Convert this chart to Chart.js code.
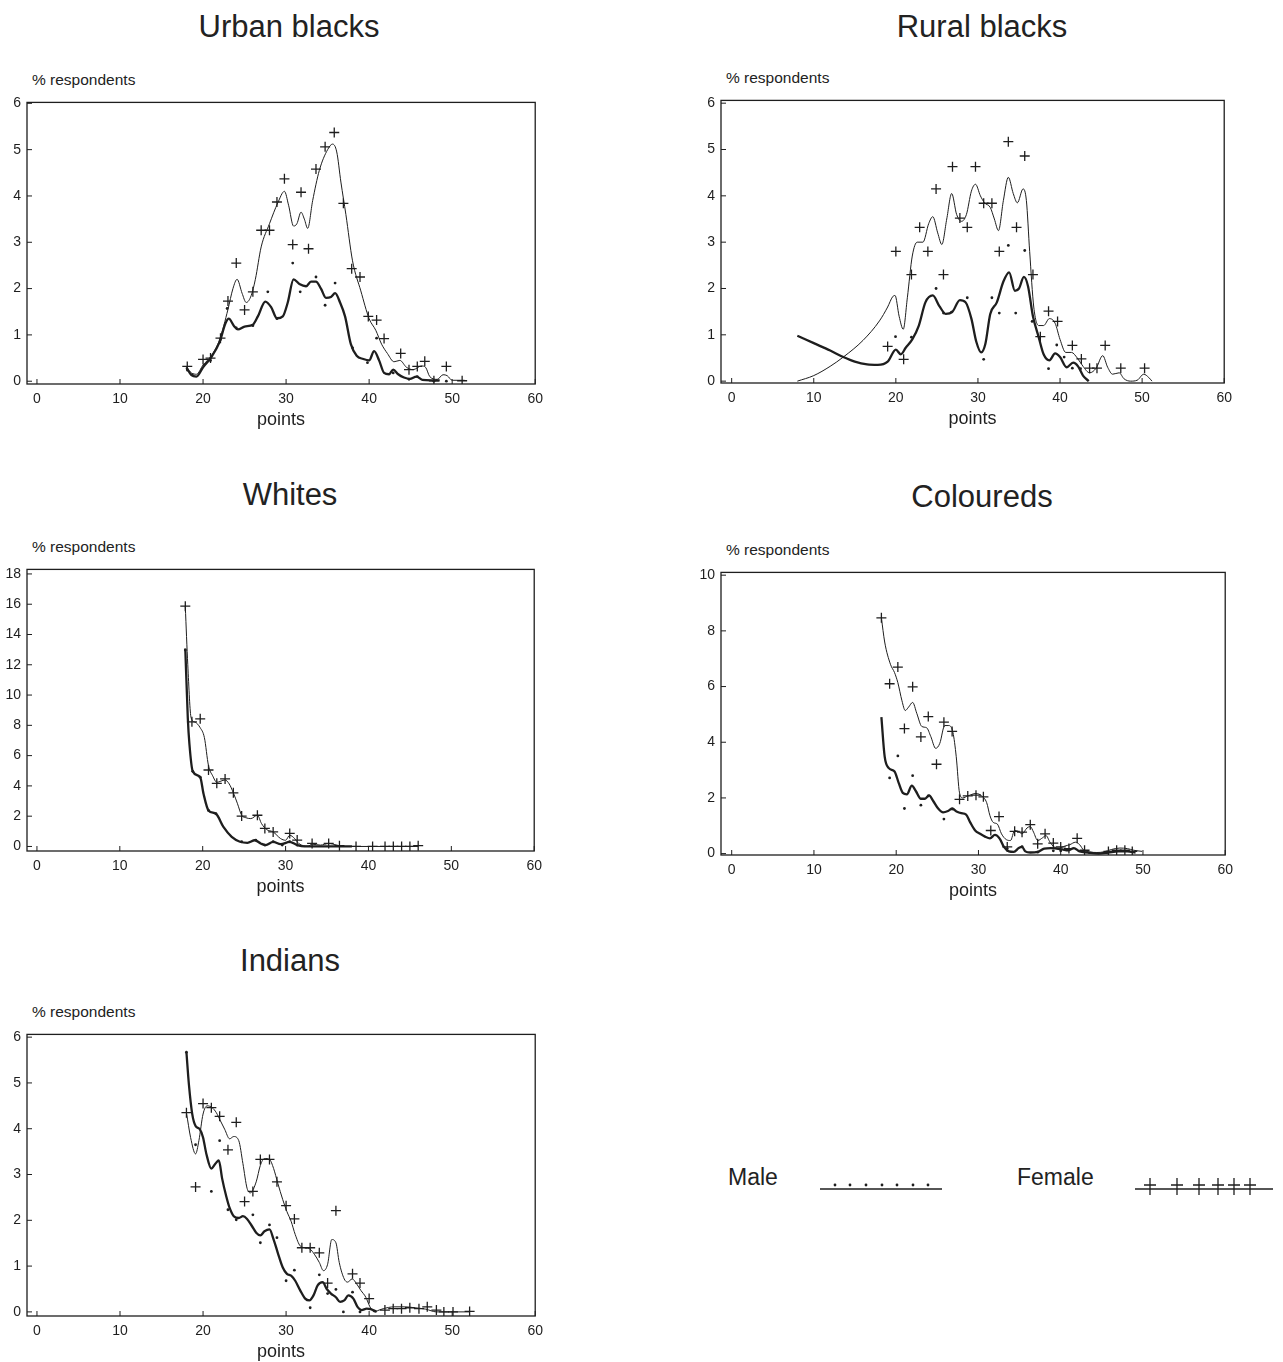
<!DOCTYPE html>
<html>
<head>
<meta charset="utf-8">
<script src="https://cdn.jsdelivr.net/npm/chart.js@4.4.1/dist/chart.umd.min.js"></script>
<style>
  body { margin: 0; background: #fff; width: 1283px; height: 1362px; position: relative; overflow: hidden;
         font-family: "Liberation Sans", Arial, Helvetica, sans-serif; color: #222; }
  .title { position: absolute; font-size: 31px; transform: translate(-50%, -50%); white-space: nowrap; }
  .ylab { position: absolute; font-size: 15.5px; transform: translateY(-50%); white-space: nowrap; }
  .leg { position: absolute; font-size: 23px; transform: translateY(-50%); white-space: nowrap; }
  canvas { position: absolute; }
</style>
</head>
<body>
<script>
// ---- tick labels ----
const xTickValues = [0, 10, 20, 30, 40, 50, 60];
const yTicksSix = [0, 1, 2, 3, 4, 5, 6];
const yTicksWhites = [0, 2, 4, 6, 8, 10, 12, 14, 16, 18];
const yTicksColoureds = [0, 2, 4, 6, 8, 10];

// ---- Urban blacks: [points, % respondents] ----
const urbanFemalePts = [[18.1,0.32],[20.0,0.47],[20.9,0.5],[22.1,0.93],[23.0,1.73],[24.0,2.55],[25.0,1.54],[26.0,1.93],[27.0,3.26],[28.0,3.26],[28.9,3.87],[29.8,4.37],[30.8,2.95],[31.8,4.08],[32.7,2.86],[33.6,4.58],[34.7,5.06],[35.8,5.37],[36.9,3.84],[37.9,2.43],[38.9,2.25],[39.9,1.4],[40.9,1.32],[41.8,0.92],[43.8,0.6],[44.8,0.25],[45.8,0.32],[46.7,0.43],[47.8,0.01],[49.3,0.32],[51.2,0.01]];
const urbanMalePts = [[18.1,0.25],[18.7,0.14],[20.9,0.45],[22.1,0.9],[22.9,1.57],[24.0,1.15],[26.0,1.2],[27.8,1.93],[28.9,1.35],[30.8,2.55],[31.7,1.93],[33.6,2.25],[34.7,1.64],[35.9,2.12],[38.0,0.72],[39.8,0.4],[40.9,0.93],[42.9,0.18],[44.8,0.04],[45.8,0.1],[47.8,0.0],[49.3,0.0]];
const urbanFemaleCurve = [[18.0,0.3],[18.6,0.18],[19.2,0.15],[20.0,0.35],[21.0,0.55],[22.0,0.9],[23.0,1.55],[23.6,2.0],[24.1,2.2],[24.7,1.9],[25.2,1.7],[25.8,1.85],[26.3,2.2],[27.0,2.9],[28.0,3.4],[29.0,3.85],[29.8,4.1],[30.3,3.8],[30.9,3.35],[31.3,3.4],[31.8,3.65],[32.2,3.5],[32.6,3.3],[33.2,3.9],[34.0,4.55],[35.0,5.0],[35.6,5.12],[36.1,4.95],[36.6,4.3],[37.2,3.6],[38.0,2.6],[39.0,1.95],[40.0,1.35],[40.8,1.1],[41.5,0.8],[42.2,0.6],[43.0,0.42],[43.7,0.45],[44.5,0.3],[45.3,0.25],[46.3,0.33],[46.8,0.3],[47.3,0.1],[48.2,0.04],[48.9,0.14],[49.4,0.12],[50.0,0.02],[51.5,0.02]];
const urbanMaleCurve = [[18.0,0.3],[18.6,0.13],[19.2,0.1],[20.0,0.3],[21.0,0.52],[22.0,0.85],[22.7,1.25],[23.1,1.35],[23.7,1.2],[24.2,1.12],[25.0,1.18],[26.0,1.22],[26.6,1.4],[27.5,1.72],[28.2,1.6],[28.9,1.36],[29.6,1.4],[30.2,1.7],[30.9,2.2],[31.6,2.1],[32.4,2.05],[33.0,2.15],[33.6,2.15],[34.2,2.0],[34.8,1.8],[35.4,1.82],[35.9,1.9],[36.5,1.7],[37.1,1.4],[37.8,0.8],[38.5,0.55],[39.3,0.48],[40.0,0.45],[40.6,0.65],[41.2,0.45],[41.8,0.18],[42.4,0.15],[42.9,0.25],[43.5,0.15],[44.2,0.08],[44.9,0.05],[45.7,0.1],[46.4,0.03],[47.5,0.02],[48.5,0.02]];

// ---- Rural blacks ----
const ruralFemalePts = [[19.0,0.75],[20.0,2.8],[20.95,0.47],[21.9,2.3],[22.9,3.32],[23.9,2.8],[24.9,4.15],[25.8,2.3],[26.9,4.63],[27.8,3.52],[28.7,3.32],[29.7,4.63],[30.7,3.84],[31.7,3.84],[32.6,2.8],[33.7,5.17],[34.7,3.32],[35.7,4.86],[36.7,2.3],[37.6,0.96],[38.6,1.51],[39.7,1.29],[41.5,0.77],[42.6,0.48],[43.6,0.28],[44.5,0.28],[45.5,0.77],[47.4,0.28],[50.3,0.28]];
const ruralMalePts = [[19.96,0.96],[21.9,0.95],[24.9,2.0],[25.8,1.47],[26.8,1.49],[28.7,1.8],[30.7,0.47],[31.7,1.8],[32.6,1.47],[33.7,2.93],[34.6,1.47],[35.7,2.82],[36.6,1.29],[38.6,0.27],[39.6,0.78],[40.5,0.52],[41.5,0.28],[42.5,0.27]];
const ruralFemaleCurve = [[8.0,0.0],[10.0,0.12],[12.0,0.32],[13.6,0.52],[16.0,0.88],[18.0,1.3],[19.0,1.6],[19.6,1.82],[19.9,1.85],[20.4,1.4],[20.9,1.12],[21.4,1.8],[22.0,2.7],[22.6,3.0],[23.3,3.0],[24.0,3.4],[24.5,3.55],[25.1,3.2],[25.6,2.95],[26.2,3.5],[26.8,4.05],[27.4,3.6],[28.0,3.45],[28.6,3.6],[29.2,4.1],[29.7,4.25],[30.3,4.0],[30.8,3.85],[31.5,3.75],[32.0,3.5],[32.5,3.25],[33.1,3.9],[33.7,4.4],[34.3,4.05],[34.8,3.85],[35.5,4.15],[35.9,3.9],[36.3,2.8],[36.8,1.6],[37.4,1.2],[38.0,1.2],[38.7,1.35],[39.4,1.25],[40.0,0.9],[40.7,0.62],[41.4,0.62],[42.1,0.5],[42.8,0.32],[43.6,0.18],[44.4,0.28],[45.2,0.55],[45.8,0.3],[46.4,0.15],[47.2,0.18],[47.8,0.05],[48.6,0.0],[49.4,0.02],[50.2,0.15],[50.8,0.08],[51.2,0.0]];
const ruralMaleCurve = [[8.0,0.98],[10.0,0.82],[12.0,0.66],[13.6,0.52],[15.0,0.42],[16.5,0.36],[17.8,0.35],[19.0,0.42],[20.0,0.68],[20.6,0.58],[21.2,0.72],[22.0,0.9],[22.8,1.2],[23.6,1.7],[24.5,1.85],[25.3,1.62],[26.1,1.45],[26.9,1.5],[27.8,1.75],[28.5,1.7],[29.2,1.35],[29.8,0.85],[30.4,0.62],[30.9,0.8],[31.5,1.45],[32.3,1.7],[33.1,2.15],[33.8,2.35],[34.5,1.95],[35.0,2.0],[35.6,2.25],[36.1,2.05],[36.7,1.4],[37.4,0.95],[38.0,0.58],[38.7,0.45],[39.4,0.6],[40.0,0.52],[40.8,0.3],[41.6,0.4],[42.2,0.32],[42.8,0.12],[43.5,0.0]];

// ---- Whites ----
const whitesFemalePts = [[17.9,15.87],[18.7,8.23],[19.7,8.43],[20.7,5.05],[21.7,4.17],[22.7,4.46],[23.7,3.54],[24.7,2.01],[26.6,2.06],[27.5,1.19],[28.5,0.96],[30.5,0.86],[31.4,0.42],[33.2,0.2],[35.2,0.2],[36.5,0.05],[38.5,0],[40.5,0],[42.0,0],[43.0,0],[44.0,0],[45.0,0],[46.0,0.05]];
const whitesMalePts = [[17.9,12.97],[18.8,4.96],[19.7,4.57],[20.7,2.38],[21.6,2.16],[24.7,0.31],[26.4,0.42],[27.5,0.09],[28.5,0.31],[29.6,0.09],[30.5,0.31],[31.4,0.09]];
const whitesFemaleCurve = [[17.9,15.87],[18.2,12.0],[18.6,8.5],[19.1,8.2],[19.7,7.84],[20.2,7.2],[20.7,5.33],[21.2,4.67],[21.7,4.24],[22.7,4.39],[23.2,4.13],[23.7,3.54],[24.2,2.82],[24.7,2.06],[25.2,1.9],[25.8,1.84],[26.6,2.06],[27.1,1.51],[27.7,1.12],[28.5,0.96],[29.4,0.52],[30.0,0.41],[30.5,0.74],[31.1,0.52],[31.6,0.19],[32.7,0.02],[33.2,0.15],[34.2,0.09],[35.2,0.19],[36.2,0.09],[36.9,0],[46.0,0]];
const whitesMaleCurve = [[17.9,13.08],[18.2,8.5],[18.4,6.75],[18.8,4.96],[19.7,4.57],[20.1,3.48],[20.7,2.38],[21.6,2.16],[22.5,1.29],[23.5,0.63],[24.5,0.31],[25.4,0.24],[26.3,0.41],[27.0,0.2],[27.6,0.09],[28.5,0.3],[29.4,0.15],[30.5,0.3],[31.4,0.09],[32.3,0],[38.0,0]];

// ---- Coloureds ----
const colFemalePts = [[18.2,8.47],[19.2,6.1],[20.2,6.7],[21.0,4.49],[22.0,5.99],[23.0,4.19],[23.9,4.92],[24.9,3.21],[25.8,4.72],[26.8,4.39],[27.7,1.95],[28.7,2.07],[29.7,2.1],[30.6,2.04],[31.5,0.83],[32.5,1.33],[33.5,0.24],[34.4,0.8],[35.3,0.77],[36.3,1.04],[37.2,0.35],[38.1,0.71],[39.1,0.38],[40.0,0.24],[41.0,0.18],[42.0,0.55],[42.9,0.12],[45.8,0.08],[46.8,0.12],[47.8,0.12],[48.7,0.08]];
const colMalePts = [[19.2,2.72],[20.2,3.51],[21.0,1.62],[22.0,2.8],[23.0,1.74],[23.9,2.07],[25.8,1.24],[26.8,1.6],[33.5,0.18],[35.3,0.25],[37.2,0.05],[39.1,0.1],[40.0,0.1]];
const colFemaleCurve = [[18.2,8.47],[18.6,7.6],[19.3,6.8],[19.8,6.5],[20.2,6.14],[20.7,5.49],[21.1,5.14],[21.5,5.26],[22.0,5.43],[22.5,5.04],[23.1,4.57],[23.7,4.52],[24.2,4.21],[24.8,3.78],[25.3,3.96],[25.9,4.6],[26.4,4.6],[26.9,4.35],[27.3,3.48],[27.7,2.18],[28.1,2.0],[28.7,2.07],[29.7,2.16],[30.4,2.07],[31.0,1.83],[31.4,1.36],[31.8,1.12],[32.3,1.06],[32.8,0.71],[33.4,0.5],[33.9,0.47],[34.4,0.83],[34.9,0.79],[35.3,0.71],[35.9,0.92],[36.3,0.97],[36.7,0.77],[37.2,0.47],[37.8,0.57],[38.2,0.65],[38.7,0.41],[39.2,0.24],[39.8,0.2],[40.5,0.27],[41.1,0.32],[41.8,0.41],[42.3,0.32],[42.8,0.12],[43.5,0.06],[44.4,0.04],[45.2,0.06],[46.2,0.15],[47.2,0.2],[48.1,0.18],[48.9,0.12],[49.9,0.08]];
const colMaleCurve = [[18.2,4.9],[18.6,3.48],[19.1,3.07],[19.8,2.95],[20.3,2.54],[20.8,2.18],[21.3,2.13],[21.9,2.44],[22.4,2.24],[23.0,1.97],[23.5,1.97],[24.0,2.09],[24.5,1.89],[25.1,1.62],[25.7,1.48],[26.3,1.53],[26.8,1.62],[27.4,1.5],[27.9,1.45],[28.5,1.4],[29.0,1.12],[29.6,0.83],[30.2,0.71],[30.8,0.61],[31.4,0.55],[32.0,0.67],[32.6,0.53],[33.1,0.24],[33.7,0.08],[34.3,0.06],[34.9,0.2],[35.3,0.24],[35.7,0.08],[36.3,0.04],[37.2,0.06],[38.0,0.18],[38.8,0.2],[39.5,0.18],[40.2,0.15],[40.9,0.12],[41.6,0.2],[42.3,0.08],[43.3,0.04],[44.6,0.0],[45.8,0.04],[47.0,0.08],[48.1,0.08],[49.1,0.04]];

// ---- Indians ----
const indFemalePts = [[18.0,4.35],[19.1,2.73],[20.0,4.55],[21.0,4.46],[22.0,4.27],[23.0,3.54],[24.0,4.14],[25.0,2.41],[26.0,2.63],[26.9,3.33],[28.0,3.33],[28.9,2.84],[30.0,2.32],[31.0,2.03],[31.9,1.4],[32.9,1.4],[34.0,1.29],[35.0,0.63],[36.0,2.21],[38.0,0.83],[38.9,0.63],[40.0,0.29],[41.9,0.04],[42.9,0.07],[43.9,0.07],[44.9,0.09],[46.0,0.07],[47.0,0.11],[48.1,0.04],[49.0,0.0],[50.1,0.0],[52.1,0.01]];
const indMalePts = [[18.0,5.67],[19.1,3.65],[21.0,2.63],[22.0,3.74],[23.0,2.23],[24.0,2.01],[26.0,2.12],[26.9,1.51],[28.0,1.9],[28.9,1.62],[30.0,0.68],[31.0,0.91],[32.9,0.09],[34.0,0.81],[35.0,0.4],[36.0,0.49],[36.9,0.0],[38.0,0.43],[38.9,0.0]];
const indFemaleCurve = [[18.0,4.35],[18.5,3.81],[19.1,3.45],[19.5,3.74],[20.0,4.32],[20.5,4.5],[21.1,4.46],[21.6,4.35],[22.1,4.17],[22.6,3.99],[23.2,3.78],[23.7,3.83],[24.3,3.74],[24.8,3.24],[25.3,2.7],[25.7,2.6],[26.4,2.84],[26.9,3.2],[27.4,3.35],[28.0,3.33],[28.5,3.13],[29.0,2.81],[29.6,2.45],[30.1,2.19],[30.6,1.98],[31.1,1.69],[31.7,1.44],[32.3,1.4],[32.9,1.37],[33.4,1.26],[34.0,1.08],[34.5,0.9],[35.0,1.04],[35.5,1.58],[36.0,1.51],[36.4,1.08],[37.0,0.72],[37.4,0.65],[37.96,0.72],[38.5,0.61],[39.0,0.47],[39.6,0.32],[40.1,0.11],[40.6,0.0],[41.2,0.04],[41.7,0.07],[43.0,0.11],[44.3,0.11],[45.5,0.09],[46.8,0.06],[48.1,0.0],[49.4,0.0],[50.6,0.0],[52.1,0.0]];
const indMaleCurve = [[18.0,5.67],[18.3,4.96],[18.7,4.32],[19.1,4.06],[19.6,3.99],[20.0,3.81],[20.4,3.45],[21.0,3.13],[21.5,3.24],[21.9,3.31],[22.3,2.91],[22.8,2.52],[23.2,2.27],[23.7,2.09],[24.3,2.05],[24.8,2.09],[25.3,2.03],[25.9,1.87],[26.4,1.73],[26.9,1.67],[27.4,1.76],[28.0,1.8],[28.5,1.58],[29.0,1.29],[29.6,0.97],[30.1,0.83],[30.6,0.79],[31.1,0.68],[31.7,0.47],[32.3,0.29],[32.8,0.25],[33.3,0.36],[33.8,0.58],[34.4,0.65],[34.9,0.5],[35.4,0.4],[36.0,0.32],[36.5,0.22],[37.0,0.25],[37.5,0.36],[38.1,0.29],[38.6,0.11],[39.1,0.04],[39.7,0.07],[40.2,0.06],[40.9,0.0]];

const INK = '#1e1e1e';
const FONT = '"Liberation Sans", Arial, Helvetica, sans-serif';

// layout of the five panels (pixel boxes of the plot frames)
const panels = [
  { title: 'Urban blacks', cx: 289, ty: 27, box: {l: 27, t: 100, r: 536, b: 384}, x: [-1.2, 60], y: [-0.06, 6.02], yTicks: yTicksSix,
    fPts: urbanFemalePts, mPts: urbanMalePts, fCurve: urbanFemaleCurve, mCurve: urbanMaleCurve },
  { title: 'Rural blacks', cx: 982, ty: 27, box: {l: 721, t: 98, r: 1225, b: 383}, x: [-1.3, 60], y: [-0.04, 6.06], yTicks: yTicksSix,
    fPts: ruralFemalePts, mPts: ruralMalePts, fCurve: ruralFemaleCurve, mCurve: ruralMaleCurve },
  { title: 'Whites', cx: 290, ty: 495, box: {l: 27, t: 567, r: 535, b: 851}, x: [-1.2, 60], y: [-0.3, 18.3], yTicks: yTicksWhites,
    fPts: whitesFemalePts, mPts: whitesMalePts, fCurve: whitesFemaleCurve, mCurve: whitesMaleCurve },
  { title: 'Coloureds', cx: 982, ty: 497, box: {l: 721, t: 570, r: 1226, b: 855}, x: [-1.3, 60], y: [-0.05, 10.1], yTicks: yTicksColoureds,
    fPts: colFemalePts, mPts: colMalePts, fCurve: colFemaleCurve, mCurve: colMaleCurve },
  { title: 'Indians', cx: 290, ty: 961, box: {l: 27, t: 1032, r: 536, b: 1316}, x: [-1.2, 60], y: [-0.09, 6.06], yTicks: yTicksSix,
    fPts: indFemalePts, mPts: indMalePts, fCurve: indFemaleCurve, mCurve: indMaleCurve }
];

// frame round the plot area plus short inward tick marks
const framePlugin = {
  id: 'frame',
  afterDraw(chart) {
    const { ctx, chartArea: a, scales } = chart;
    ctx.save();
    ctx.strokeStyle = INK;
    ctx.lineWidth = 1.3;
    ctx.strokeRect(a.left, a.top, a.right - a.left, a.bottom - a.top);
    ctx.lineWidth = 1;
    scales.x.ticks.forEach(t => {
      const px = scales.x.getPixelForValue(t.value);
      ctx.beginPath(); ctx.moveTo(px, a.bottom); ctx.lineTo(px, a.bottom - 5); ctx.stroke();
    });
    scales.y.ticks.forEach(t => {
      const py = scales.y.getPixelForValue(t.value);
      ctx.beginPath(); ctx.moveTo(a.left, py); ctx.lineTo(a.left + 5, py); ctx.stroke();
    });
    ctx.restore();
  }
};

const toXY = a => a.map(([x, y]) => ({ x, y }));

function addDiv(cls, text, left, top) {
  const d = document.createElement('div');
  d.className = cls;
  d.textContent = text;
  d.style.left = left + 'px';
  d.style.top = top + 'px';
  document.body.appendChild(d);
}

function makePanel(p) {
  const padTop = 12, padRight = 14, yw = 27, xh = 56;
  addDiv('title', p.title, p.cx, p.ty);
  addDiv('ylab', '% respondents', p.box.l + 5, p.box.t - 20);

  const c = document.createElement('canvas');
  c.width = p.box.r - p.box.l + yw + padRight;
  c.height = p.box.b - p.box.t + padTop + xh;
  c.style.left = (p.box.l - yw) + 'px';
  c.style.top = (p.box.t - padTop) + 'px';
  document.body.appendChild(c);

  new Chart(c, {
    type: 'scatter',
    data: {
      datasets: [
        { data: toXY(p.fCurve), showLine: true, borderColor: INK, borderWidth: 1, pointRadius: 0, cubicInterpolationMode: 'monotone' },
        { data: toXY(p.mCurve), showLine: true, borderColor: INK, borderWidth: 2.3, pointRadius: 0, cubicInterpolationMode: 'monotone' },
        { data: toXY(p.fPts), pointStyle: 'cross', pointRadius: 5, borderColor: INK, borderWidth: 1.3 },
        { data: toXY(p.mPts), pointStyle: 'circle', pointRadius: 1.4, backgroundColor: INK, borderWidth: 0 }
      ]
    },
    options: {
      responsive: false,
      animation: false,
      devicePixelRatio: 1,
      layout: { padding: { left: 0, top: padTop, right: padRight, bottom: 0 } },
      plugins: { legend: { display: false }, tooltip: { enabled: false } },
      scales: {
        x: {
          type: 'linear', min: p.x[0], max: p.x[1],
          afterBuildTicks: s => { s.ticks = xTickValues.map(v => ({ value: v })); },
          afterFit: s => { s.height = xh; },
          grid: { display: false, drawTicks: false }, border: { display: false },
          ticks: { padding: 7, color: INK, font: { family: FONT, size: 14 }, autoSkip: false, maxRotation: 0 },
          title: { display: true, text: 'points', color: INK, font: { family: FONT, size: 18 }, padding: { top: 0, bottom: 9 } }
        },
        y: {
          type: 'linear', min: p.y[0], max: p.y[1],
          afterBuildTicks: s => { s.ticks = p.yTicks.map(v => ({ value: v })); },
          afterFit: s => { s.width = yw; },
          grid: { display: false, drawTicks: false }, border: { display: false },
          ticks: { padding: 6, color: INK, font: { family: FONT, size: 14 }, autoSkip: false }
        }
      }
    },
    plugins: [framePlugin]
  });
}

panels.forEach(makePanel);

// legend
addDiv('leg', 'Male', 728, 1177);
addDiv('leg', 'Female', 1017, 1177);
const lg = document.createElement('canvas');
lg.width = 483; lg.height = 50;
lg.style.left = '800px'; lg.style.top = '1160px';
document.body.appendChild(lg);
const g = lg.getContext('2d');
g.strokeStyle = INK; g.fillStyle = INK; g.lineWidth = 1.5;
g.beginPath(); g.moveTo(20, 29); g.lineTo(142, 29); g.stroke();
[35, 50, 66, 82, 97, 113, 128].forEach(x => { g.beginPath(); g.arc(x, 25, 1.4, 0, Math.PI * 2); g.fill(); });
g.beginPath(); g.moveTo(335, 29); g.lineTo(473, 29); g.stroke();
g.lineWidth = 1.3;
[350, 377, 399, 418, 434, 450].forEach(x => {
  g.beginPath(); g.moveTo(x - 6, 25); g.lineTo(x + 6, 25); g.moveTo(x, 18); g.lineTo(x, 35); g.stroke();
});
</script>
</body>
</html>
